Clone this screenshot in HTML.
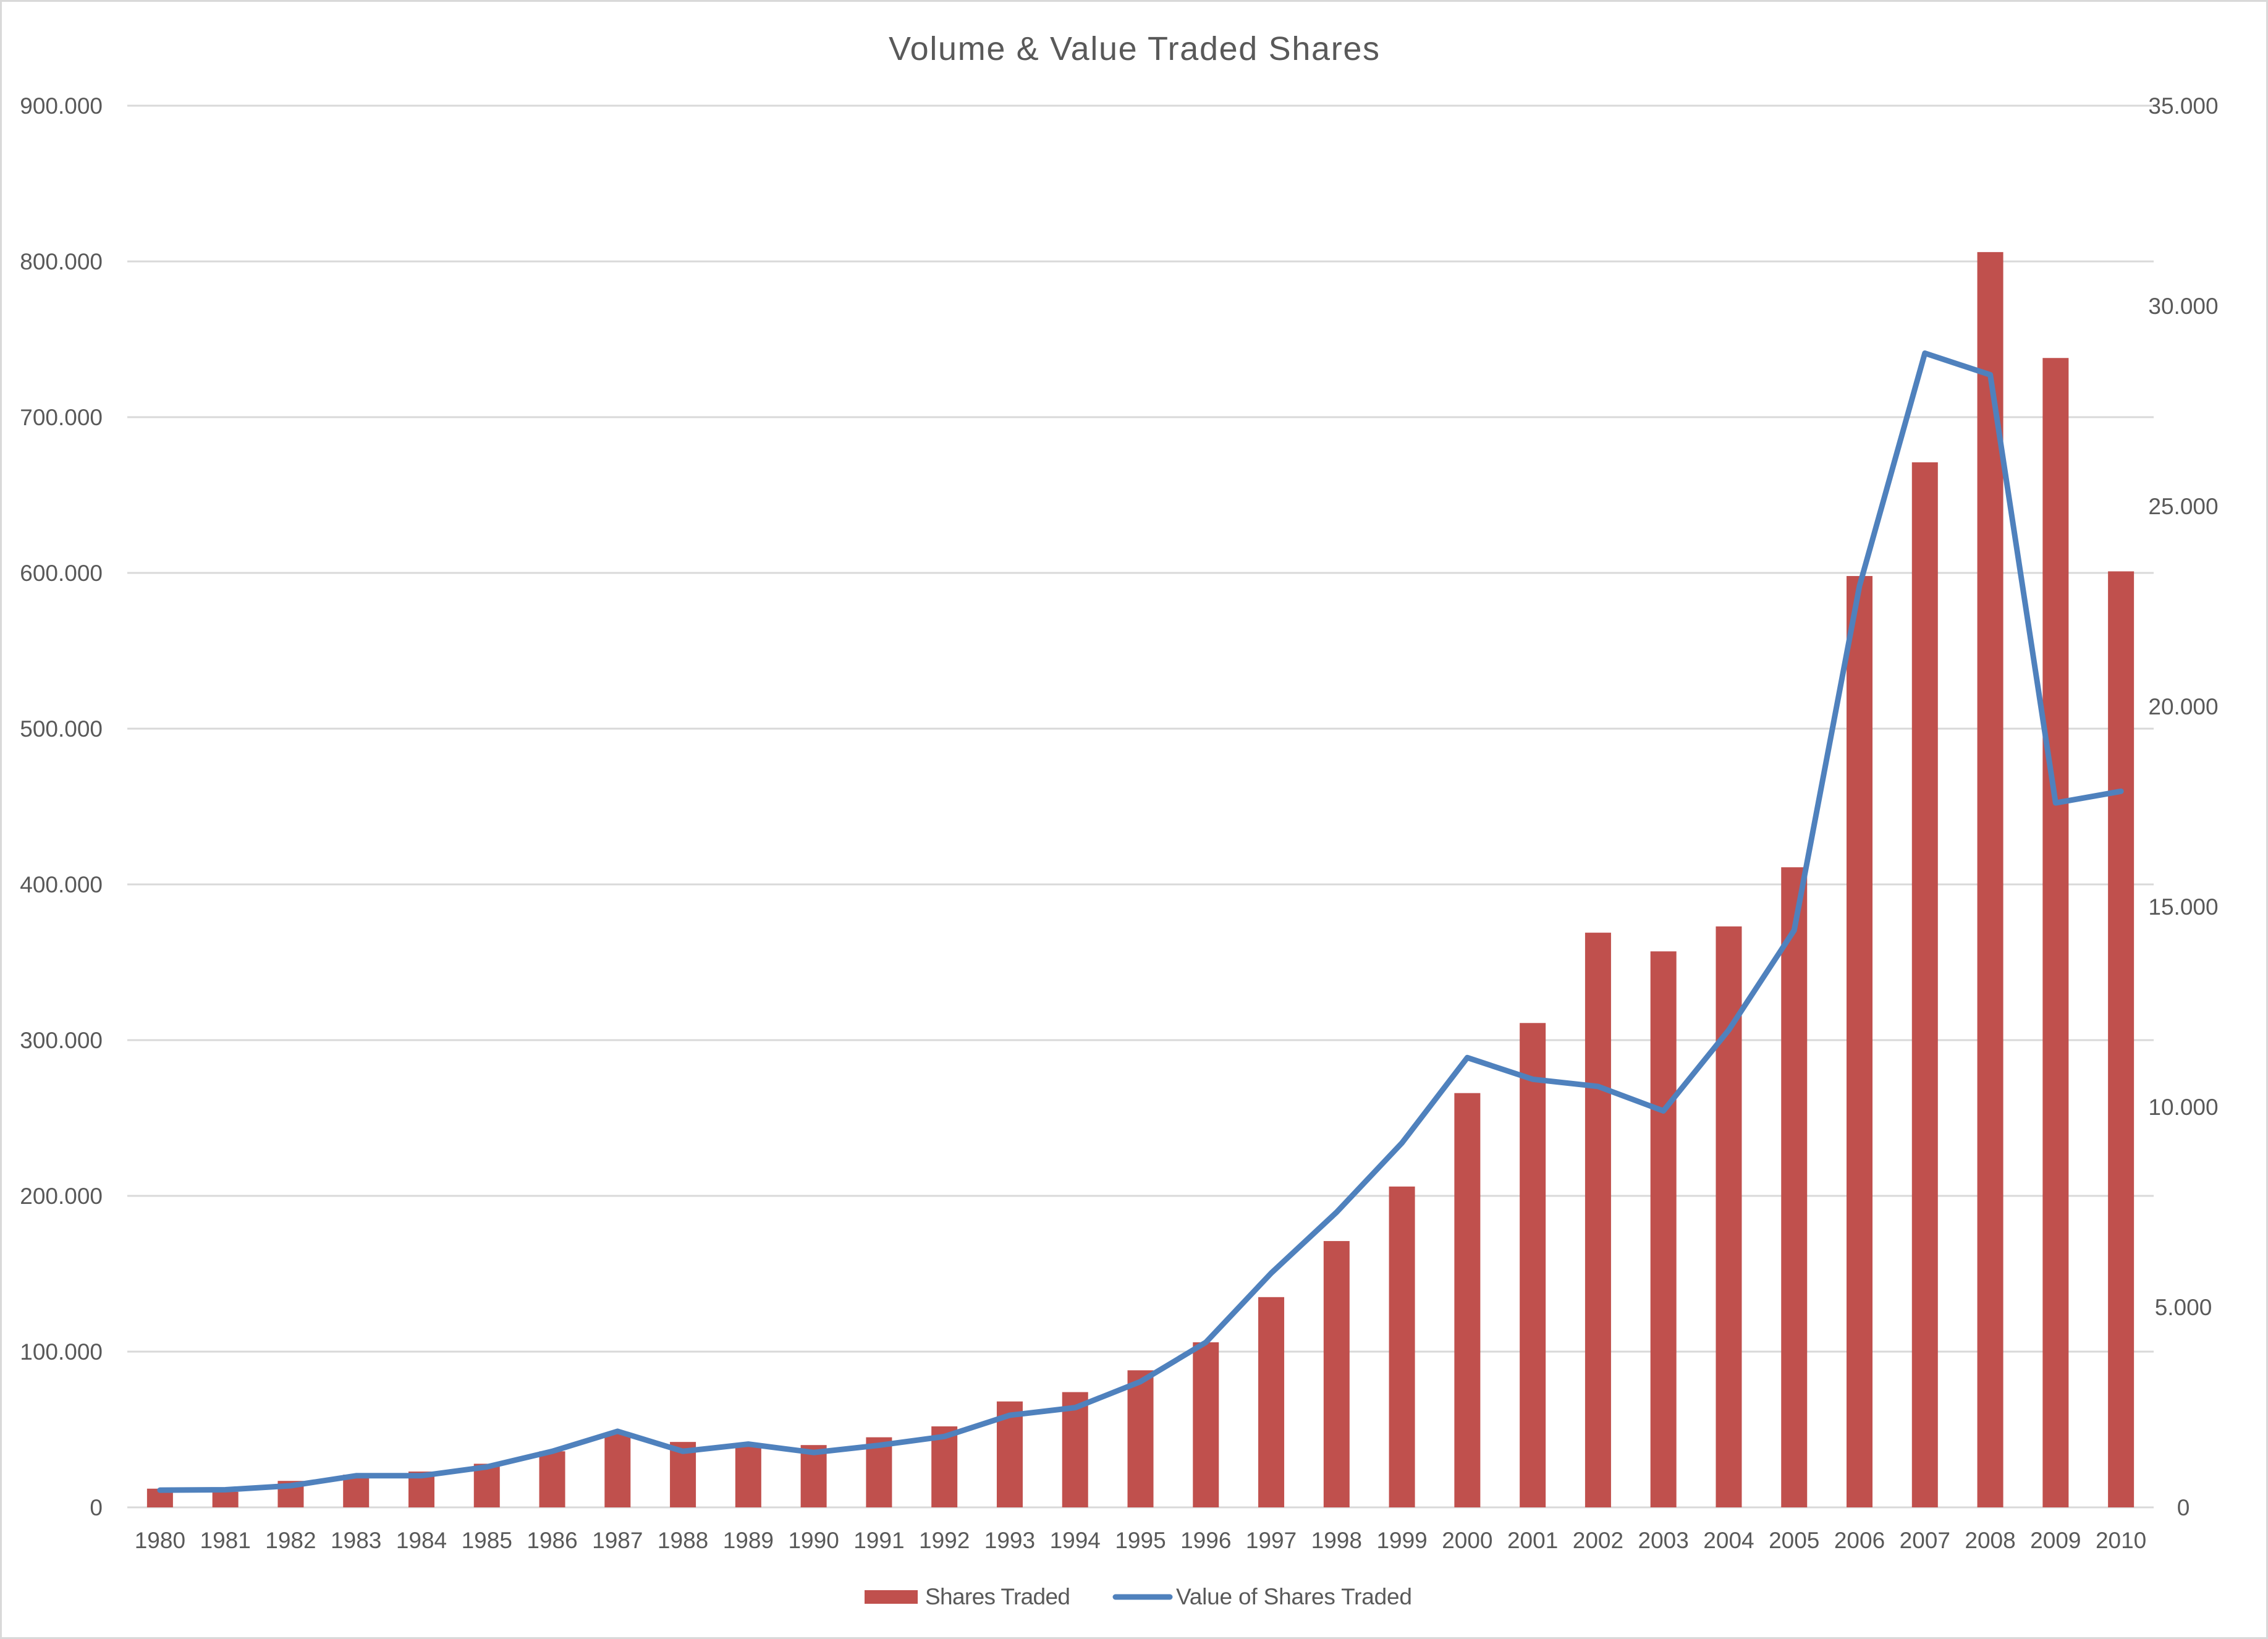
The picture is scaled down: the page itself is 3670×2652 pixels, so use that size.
<!DOCTYPE html>
<html><head><meta charset="utf-8"><style>
html,body{margin:0;padding:0;background:#fff}
svg{display:block;font-family:"Liberation Sans",sans-serif}
</style></head><body>
<svg id="chart" width="3670" height="2652" viewBox="0 0 3670 2652" xmlns="http://www.w3.org/2000/svg">
<rect x="1.5" y="1.5" width="3667" height="2649" fill="#fff" stroke="#D9D9D9" stroke-width="3"/>
<text x="1835" y="97" text-anchor="middle" font-size="54" fill="#595959" textLength="794">Volume &amp; Value Traded Shares</text>
<g id="grid"></g><g id="bars"></g><g id="line"></g><g id="xlabels"></g><g id="ylabels"></g>
<g>
<rect x="1399" y="2573" width="86" height="22" fill="#C0504D"/>
<text x="1497" y="2596" font-size="37" fill="#595959" textLength="235">Shares Traded</text>
<line x1="1805" y1="2584" x2="1893" y2="2584" stroke="#4F81BD" stroke-width="9" stroke-linecap="round"/>
<text x="1903" y="2596" font-size="37" fill="#595959" textLength="382">Value of Shares Traded</text>
</g>
</svg>
<script>
const years = ["1980","1981","1982","1983","1984","1985","1986","1987","1988","1989","1990","1991","1992","1993","1994","1995","1996","1997","1998","1999","2000","2001","2002","2003","2004","2005","2006","2007","2008","2009","2010"];
const sharesTraded = [12000,10000,17000,21000,23000,28000,36000,48000,42000,41000,40000,45000,52000,68000,74000,88000,106000,135000,171000,206000,266000,311000,369000,357000,373000,411000,598000,671000,806000,738000,601000];
const valueTraded = [430,440,540,790,790,1010,1400,1900,1400,1580,1370,1550,1770,2300,2490,3140,4120,5850,7370,9100,11230,10690,10510,9900,11920,14410,23010,28820,28280,17590,17880];
const leftTicks = ["0","100.000","200.000","300.000","400.000","500.000","600.000","700.000","800.000","900.000"];
const rightTicks = ["0","5.000","10.000","15.000","20.000","25.000","30.000","35.000"];

const NS="http://www.w3.org/2000/svg";
const L=206,R=3485,T=171,B=2439;
const leftMax=900000,rightMax=35000;
const step=(R-L)/years.length;
const xC=i=>L+(i+0.5)*step;
const yL=v=>B-(v/leftMax)*(B-T);
const yR=v=>B-(v/rightMax)*(B-T);
function mk(tag,attrs,parent){const e=document.createElementNS(NS,tag);for(const k in attrs)e.setAttribute(k,attrs[k]);document.getElementById(parent).appendChild(e);return e;}

leftTicks.forEach((t,i)=>{
  const y=yL(i*100000);
  const g=mk('line',{x1:L,x2:R,y1:y,y2:y,stroke:'#D9D9D9','stroke-width':3},'grid');
  
  
  const tx=mk('text',{x:166,y:y+13,'text-anchor':'end','font-size':37,fill:'#595959'},'ylabels');
  tx.textContent=t;
  
  
});
rightTicks.forEach((t,i)=>{
  const y=yR(i*5000);
  const tx=mk('text',{x:3533,y:y+13,'text-anchor':'middle','font-size':37,fill:'#595959'},'ylabels');
  tx.textContent=t;
  
  
});
const bw=42;
sharesTraded.forEach((v,i)=>{
  const r=mk('rect',{x:xC(i)-bw/2,y:yL(v),width:bw,height:B-yL(v),fill:'#C0504D'},'bars');
  
  
});
const ax=mk('line',{x1:L,x2:R,y1:B,y2:B,stroke:'#D9D9D9','stroke-width':3},'grid');


years.forEach((yr,i)=>{
  const tx=mk('text',{x:xC(i),y:2505,'text-anchor':'middle','font-size':37,fill:'#595959'},'xlabels');
  tx.textContent=yr;
  
  
});
const pts=valueTraded.map((v,i)=>xC(i)+','+yR(v)).join(' ');
const pl=mk('polyline',{points:pts,fill:'none',stroke:'#4F81BD','stroke-width':9,'stroke-linejoin':'round','stroke-linecap':'round'},'line');


</script>
</body></html>
